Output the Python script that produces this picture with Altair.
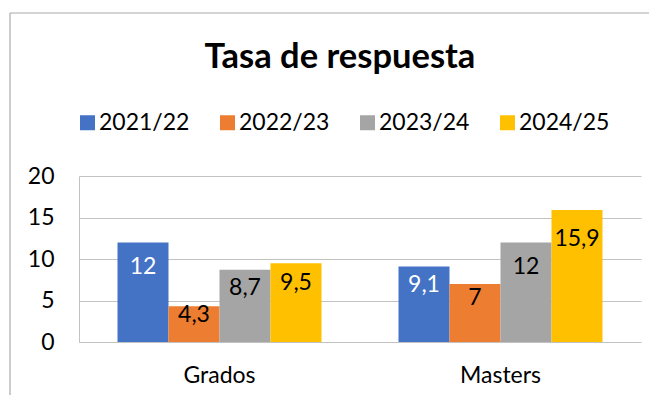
import altair as alt
import pandas as pd

TITLE = "Tasa de respuesta"
categories = ["Grados", "Masters"]
series = ["2021/22", "2022/23", "2023/24", "2024/25"]
grados = [12, 4.3, 8.7, 9.5]
masters = [9.1, 7, 12, 15.9]
colors = ["#4472C4", "#ED7D31", "#A5A5A5", "#FFC000"]
y_ticks = [0, 5, 10, 15, 20]

rows = []
for cat, vals in zip(categories, [grados, masters]):
    for s, v in zip(series, vals):
        rows.append({"cat": cat, "s": s, "v": v})
df = pd.DataFrame(rows)

FONT = "Lato"
GRID = "#C2C2C2"
BORDER = "#A9A9A9"

x_scale = alt.Scale(paddingInner=0.274, paddingOuter=0.137)
y_scale = alt.Scale(domain=[0, 20])
xo_enc = alt.XOffset("s:N", sort=series, scale=alt.Scale(paddingInner=0, paddingOuter=0))

base = alt.Chart(df)

bars = base.mark_bar().encode(
    x=alt.X("cat:N", sort=categories, scale=x_scale,
            axis=alt.Axis(title=None, labelAngle=0, ticks=False, domain=True, grid=False,
                          domainColor=GRID, labelPadding=22, labelFontSize=23,
                          labelColor="black", labelFont=FONT)),
    xOffset=xo_enc,
    y=alt.Y("v:Q", scale=y_scale,
            axis=alt.Axis(values=y_ticks, title=None, ticks=False, labelPadding=25,
                          grid=True, gridColor=GRID, domain=True, domainColor=GRID,
                          labelFontSize=23, labelColor="black", labelFont=FONT)),
    color=alt.Color("s:N", sort=series,
                    scale=alt.Scale(domain=series, range=colors),
                    legend=alt.Legend(title=None, orient="none", legendX=-3, legendY=-65,
                                      direction="horizontal", columns=4,
                                      symbolType="square", symbolSize=225,
                                      symbolStrokeWidth=0, labelFontSize=23,
                                      labelFont=FONT, labelColor="black",
                                      columnPadding=26, labelOffset=0, padding=0)),
)

labels = base.transform_calculate(
    lbl="replace(toString(datum.v), '.', ',')",
    ly="max(datum.v - 3.5, datum.v * 0.75)",
).mark_text(fontSize=23, font=FONT, baseline="middle").encode(
    x=alt.X("cat:N", sort=categories, scale=x_scale, axis=None),
    xOffset=xo_enc,
    y=alt.Y("ly:Q", scale=y_scale, axis=None),
    text="lbl:N",
    color=alt.condition(alt.datum.s == series[0], alt.value("white"), alt.value("black")),
)

title = alt.Chart(alt.Data(values=[{"t": TITLE}])).mark_text(
    fontSize=34.5, fontWeight="bold", font=FONT, baseline="middle", color="black"
).encode(x=alt.value(261), y=alt.value(-118), text="t:N")

border_top = alt.Chart(alt.Data(values=[{"a": 1}])).mark_rule(color=BORDER, strokeWidth=1.2).encode(
    x=alt.value(-69), x2=alt.value(600), y=alt.value(-163))
border_left = alt.Chart(alt.Data(values=[{"a": 1}])).mark_rule(color=BORDER, strokeWidth=1.2).encode(
    x=alt.value(-69), y=alt.value(-163), y2=alt.value(260))

chart = alt.layer(border_top, border_left, title, bars, labels).resolve_axis(
    x="independent", y="independent"
).properties(
    width=562, height=166,
    view=alt.ViewBackground(stroke="transparent", strokeWidth=0, strokeOpacity=0),
    autosize=alt.AutoSizeParams(type="none"),
    padding={"left": 71, "top": 168, "right": 8, "bottom": 53},
).configure(font=FONT).configure_view(stroke="transparent", strokeWidth=0, strokeOpacity=0)

chart.save("out.html", embed_options={"renderer": "svg", "actions": False})
